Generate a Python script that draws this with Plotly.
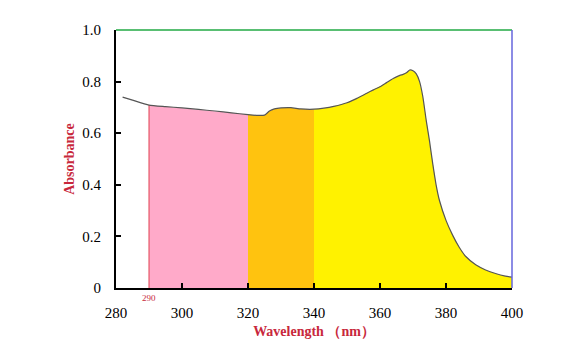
import plotly.graph_objects as go

wavelength = [282, 285, 290, 295, 300, 305, 310, 315, 320, 323, 325, 326.5, 328, 330, 333, 336, 340,
              343, 346, 350, 353, 356, 358, 360, 362, 364, 366, 367, 368, 369, 370, 371, 372, 373,
              374, 375, 376, 377, 378, 380, 382, 384, 386, 389, 392, 395, 398, 400]
absorbance = [0.740, 0.728, 0.709, 0.703, 0.698, 0.692, 0.686, 0.679, 0.672, 0.669, 0.670, 0.686,
              0.694, 0.698, 0.699, 0.694, 0.693, 0.697, 0.704, 0.718, 0.735, 0.755, 0.768, 0.780,
              0.796, 0.812, 0.824, 0.828, 0.834, 0.845, 0.842, 0.830, 0.800, 0.740, 0.650, 0.570,
              0.480, 0.400, 0.340, 0.262, 0.205, 0.158, 0.122, 0.090, 0.070, 0.056, 0.046, 0.042]

segments = [(290, 320, "#FFAAC9"), (320, 340, "#FFC30F"), (340, 400, "#FFF200")]
x_ticks = [280, 300, 320, 340, 360, 380, 400]
y_ticks = [0, 0.2, 0.4, 0.6, 0.8, 1.0]
y_ticktext = ["0", "0.2", "0.4", "0.6", "0.8", "1.0"]

fig = go.Figure()
for lo, hi, col in segments:
    xs = [w for w in wavelength if lo <= w <= hi]
    ys = [a for w, a in zip(wavelength, absorbance) if lo <= w <= hi]
    fig.add_trace(go.Scatter(x=xs, y=ys, mode="lines", fill="tozeroy", fillcolor=col,
                             line=dict(width=0, color=col), hoverinfo="skip", showlegend=False))

# red boundary at 290
a290 = absorbance[wavelength.index(290)]
fig.add_trace(go.Scatter(x=[290, 290], y=[0, a290], mode="lines",
                         line=dict(color="#E04050", width=1), showlegend=False))

fig.add_trace(go.Scatter(x=wavelength, y=absorbance, mode="lines",
                         line=dict(color="#555555", width=1.2, shape="spline", smoothing=0.5),
                         showlegend=False))

serif = "Liberation Serif, Times New Roman, serif"
fig.update_layout(
    width=570, height=352,
    margin=dict(l=116, r=58, t=30, b=64),
    plot_bgcolor="white", paper_bgcolor="white",
    font=dict(family=serif, size=15, color="black"),
    xaxis=dict(range=[280, 400], tickvals=x_ticks, ticks="inside", ticklen=5, tickwidth=1.5,
               tickcolor="black", showline=True, linecolor="black", linewidth=2,
               showgrid=False, zeroline=False, ticklabelstandoff=10,
               title=dict(text="<b>Wavelength （nm）</b>", font=dict(color="#C8283C", size=14,
                          family=serif), standoff=6)),
    yaxis=dict(range=[0, 1.0], tickvals=y_ticks, ticktext=y_ticktext, ticks="inside", ticklen=5,
               tickwidth=1.5, tickcolor="black", showline=True, linecolor="black", linewidth=2,
               showgrid=False, zeroline=False, ticklabelstandoff=10,
               title=dict(text="<b>Absorbance</b>", font=dict(color="#C8283C", size=14,
                          family=serif), standoff=4)),
    shapes=[
        dict(type="line", xref="paper", yref="paper", x0=0, x1=1, y0=1, y1=1,
             line=dict(color="#22AA44", width=1.5)),
        dict(type="line", xref="paper", yref="paper", x0=1, x1=1, y0=0, y1=1,
             line=dict(color="#6666DD", width=1.5)),
    ],
    annotations=[dict(x=290, y=0, xref="x", yref="y", text="290", showarrow=False,
                      yshift=-10, font=dict(size=9, color="#C8283C", family=serif))],
)

fig.write_html("out.html")
